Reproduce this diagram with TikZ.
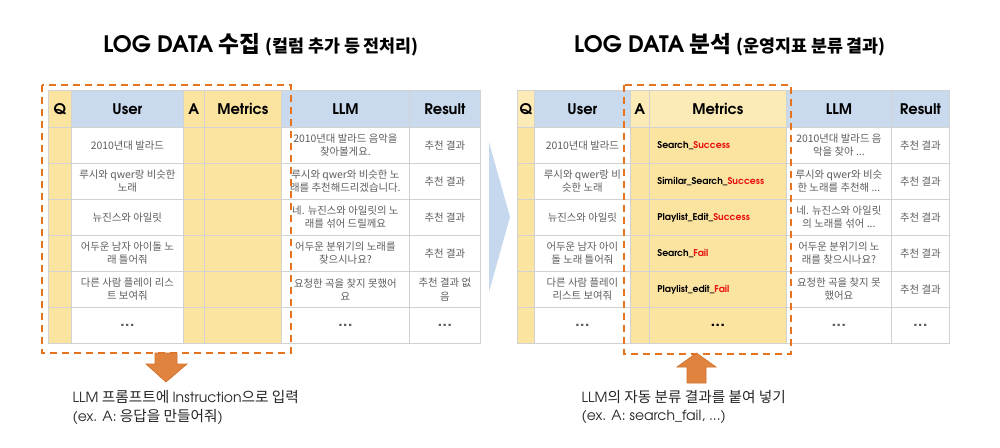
\documentclass[tikz,border=0pt]{standalone}
\usepackage{fontspec}
\setmainfont{Noto Sans CJK KR}
\newfontfamily\lat{texgyreadventor}[Extension=.otf,UprightFont=*-regular,BoldFont=*-bold,ItalicFont=*-italic,BoldItalicFont=*-bolditalic]
\definecolor{hblue}{HTML}{C9DAEE}
\definecolor{ylw}{HTML}{FBE3A0}
\definecolor{ylwh}{HTML}{FCEBB6}
\definecolor{gridc}{HTML}{D2D2D2}
\definecolor{txt}{HTML}{5E5E5E}
\definecolor{dorange}{HTML}{E8731E}
\definecolor{aorange}{HTML}{E0833F}
\definecolor{aedge}{HTML}{D2712C}
\definecolor{chev}{HTML}{C5D8EE}
\definecolor{redt}{HTML}{E8110F}
\tikzset{
  cell/.style={draw=gridc, line width=0.6pt, inner sep=0pt, anchor=north west,
    align=center, font=\fontsize{7.8}{10}\selectfont, text=txt},
  hdr/.style={font=\lat\bfseries\fontsize{11}{13}\selectfont, text=black},
  mtr/.style={font=\lat\bfseries\fontsize{7}{9}\selectfont, text=black},
  dashbox/.style={draw=dorange, line width=1.6pt, dash pattern=on 5.5pt off 3.5pt},
  blockarrow/.style={fill=aorange, draw=aedge, line width=0.5pt},
  ttl/.style={font=\fontsize{17}{20}\selectfont, text=black},
  note/.style={anchor=west, font=\fontsize{11}{13}\selectfont, text=black!85}
}
\newcommand\cellnode[8][]{\node[cell,#1,fill=#7,minimum width=#5*0.75pt,minimum height=#6*0.75pt] (#2) at (#3,#4) {#8};}
\newcommand\ddd{{\lat\bfseries\fontsize{13}{13}\selectfont ...}}
\newcommand\lrow[5]{%
\cellnode{LQ#1}{48}{#2}{23}{36}{ylw}{}
\cellnode{LU#1}{71}{#2}{112}{36}{white}{#3}
\cellnode{LA#1}{183}{#2}{21}{36}{ylw}{}
\cellnode{LM#1}{204}{#2}{77}{36}{ylw}{}
\cellnode{LL#1}{281}{#2}{128}{36}{white}{#4}
\cellnode{LR#1}{409}{#2}{71}{36}{white}{#5}}
\newcommand\rrow[6]{%
\cellnode{RQ#1}{517}{#2}{17}{36}{ylw}{}
\cellnode{RU#1}{534}{#2}{96}{36}{white}{#3}
\cellnode{RA#1}{630}{#2}{19}{36}{ylw}{}
\cellnode[mtr]{RM#1}{649}{#2}{137}{36}{ylw}{#4}
\cellnode{RL#1}{786}{#2}{105}{36}{white}{#5}
\cellnode{RR#1}{891}{#2}{58}{36}{white}{#6}}
\newcommand\mt[2]{\makebox[90.75pt][l]{#1\textcolor{redt}{#2}}}
\newcommand\lt[1]{{\lat\fontsize{10.5}{13}\selectfont #1}}
\begin{document}
\begin{tikzpicture}[x=0.75pt,y=-0.75pt]
\useasboundingbox (0,0) rectangle (1000,447);
\fill[white] (0,0) rectangle (1000,447);

% titles
\node[ttl] (t1) at (261,45) {{\lat\bfseries LOG DATA} \bfseries 수집 {\fontsize{13}{15}\selectfont (컬럼 추가 등 전처리)}};
\node[ttl] (t2) at (730,45) {{\lat\bfseries LOG DATA} \bfseries 분석 {\fontsize{13}{15}\selectfont (운영지표 분류 결과)}};

% left table
\cellnode[hdr]{LQh}{48}{90}{23}{37}{ylw}{Q}
\cellnode[hdr]{LUh}{71}{90}{112}{37}{hblue}{User}
\cellnode[hdr]{LAh}{183}{90}{21}{37}{ylw}{A}
\cellnode[hdr]{LMh}{204}{90}{77}{37}{ylw}{Metrics}
\cellnode[hdr]{LLh}{281}{90}{128}{37}{hblue}{LLM}
\cellnode[hdr]{LRh}{409}{90}{71}{37}{hblue}{Result}
\lrow{1}{127}{2010년대 발라드}{2010년대 발라드 음악을\\찾아볼게요.}{추천 결과}
\lrow{2}{163}{루시와 qwer랑 비슷한\\노래}{루시와 qwer와 비슷한 노\\래를 추천해드리겠습니다.}{추천 결과}
\lrow{3}{199}{뉴진스와 아일릿}{네. 뉴진스와 아일릿의 노\\래를 섞어 드릴께요}{추천 결과}
\lrow{4}{235}{어두운 남자 아이돌 노\\래 틀어줘}{어두운 분위기의 노래를\\찾으시나요?}{추천 결과}
\lrow{5}{271}{다른 사람 플레이 리스\\트 보여줘}{요청한 곡을 찾지 못했어\\요}{추천 결과 없\\음}
\lrow{6}{307}{\ddd}{\ddd}{\ddd}

% right table
\cellnode[hdr]{RQh}{517}{90}{17}{37}{ylwh}{Q}
\cellnode[hdr]{RUh}{534}{90}{96}{37}{hblue}{User}
\cellnode[hdr]{RAh}{630}{90}{19}{37}{ylwh}{A}
\cellnode[hdr]{RMh}{649}{90}{137}{37}{ylwh}{Metrics}
\cellnode[hdr]{RLh}{786}{90}{105}{37}{hblue}{LLM}
\cellnode[hdr]{RRh}{891}{90}{58}{37}{hblue}{Result}
\rrow{1}{127}{2010년대 발라드}{\mt{Search\_}{Success}}{2010년대 발라드 음\\악을 찾아 ...}{추천 결과}
\rrow{2}{163}{루시와 qwer랑 비\\슷한 노래}{\mt{Similar\_Search\_}{Success}}{루시와 qwer와 비슷\\한 노래를 추천해 ...}{추천 결과}
\rrow{3}{199}{뉴진스와 아일릿}{\mt{Playlist\_Edit\_}{Success}}{네. 뉴진스와 아일릿\\의 노래를 섞어 ...}{추천 결과}
\rrow{4}{235}{어두운 남자 아이\\돌 노래 틀어줘}{\mt{Search\_}{Fail}}{어두운 분위기의 노\\래를 찾으시나요?}{추천 결과}
\rrow{5}{271}{다른 사람 플레이\\리스트 보여줘}{\mt{Playlist\_edit\_}{Fail}}{요청한 곡을 찾지 못\\했어요}{추천 결과}
\rrow{6}{307}{\ddd}{\ddd}{\ddd}{\ddd}

% dashed selections
\draw[dashbox] (42,85) rectangle (291,353);
\draw[dashbox] (624,85) rectangle (791,354);

% middle chevron
\fill[chev] (489,142) -- (510,217) -- (489,292) -- cycle;

% block arrows
\draw[blockarrow] (155,353) -- (177,353) -- (177,364) -- (187,364) -- (166,382) -- (146,364) -- (155,364) -- cycle;
\draw[blockarrow] (696.5,353) -- (716,367) -- (706,367) -- (706,383) -- (687,383) -- (687,367) -- (677,367) -- cycle;

% notes
\node[note] (n1) at (68,397) {\lt{LLM} 프롬프트에 \lt{Instruction}으로 입력};
\node[note] (n2) at (68,417) {\lt{(ex. A:} 응답을 만들어줘\lt{)}};
\node[note] (n3) at (577,397) {\lt{LLM}의 자동 분류 결과를 붙여 넣기};
\node[note] (n4) at (577,417) {\lt{(ex. A: search\_fail, ...)}};
\end{tikzpicture}
\end{document}
